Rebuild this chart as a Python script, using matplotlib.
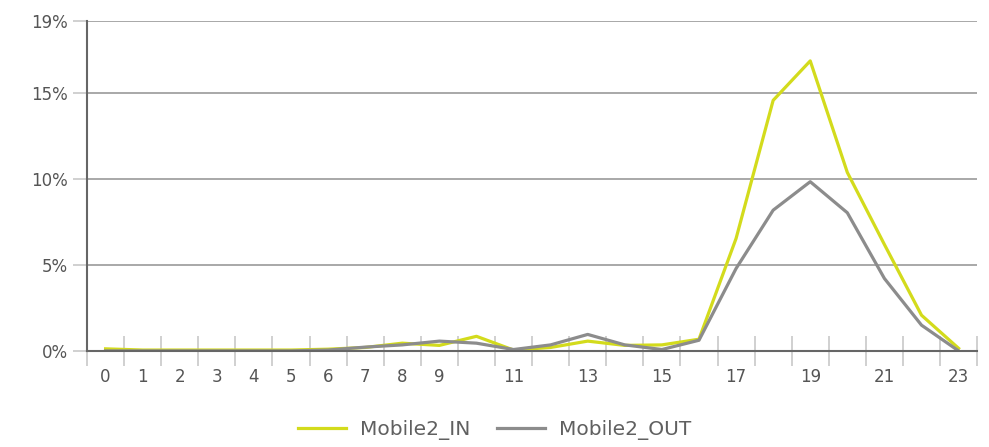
import matplotlib.pyplot as plt

# hourly share of traffic (%)
hours = list(range(24))
mobile2_in = [0.12, 0.05, 0.05, 0.05, 0.05, 0.05, 0.1, 0.2, 0.45, 0.32, 0.85, 0.05,
              0.2, 0.57, 0.32, 0.35, 0.68, 6.55, 14.6, 16.9, 10.4, 6.2, 2.08, 0.15]
mobile2_out = [0.0, 0.0, 0.0, 0.0, 0.0, 0.0, 0.05, 0.22, 0.35, 0.57, 0.45, 0.08,
               0.35, 0.96, 0.35, 0.08, 0.62, 4.8, 8.2, 9.86, 8.05, 4.22, 1.5, 0.0]
x_labels = ["0", "1", "2", "3", "4", "5", "6", "7", "8", "9", "", "11",
            "", "13", "", "15", "", "17", "", "19", "", "21", "", "23"]
y_ticks = [0, 5, 10, 15, 19.25]
y_labels = ["0%", "5%", "10%", "15%", "19%"]

text_col = "#555555"
plt.rc('font', family='DejaVu Sans', size=12)

fig = plt.figure(figsize=(9.89, 4.47), dpi=100)
ax = fig.add_axes([0.088, 0.215, 0.9, 0.739])

ax.plot(hours, mobile2_in, color="#d3db1c", lw=2.3, label="Mobile2_IN")
ax.plot(hours, mobile2_out, color="#8c8c8c", lw=2.3, label="Mobile2_OUT")

ax.set_xlim(-0.5, 23.5)
ax.set_ylim(0, 19.25)

ax.set_yticks(y_ticks)
ax.set_yticklabels(y_labels, color=text_col)
ax.yaxis.grid(True, color="#999999", lw=1.2)
ax.set_axisbelow(True)
ax.tick_params(axis='y', length=10, color="#c8c8c8", width=1.2, pad=4)

# tick marks on category boundaries, labels on the category centres
ax.set_xticks([h - 0.5 for h in hours] + [23.5])
ax.set_xticklabels([])
ax.set_xticks(hours, minor=True)
ax.set_xticklabels(x_labels, minor=True, color=text_col)
ax.tick_params(axis='x', which='major', direction='inout', length=22, color="#c8c8c8", width=1.2)
ax.tick_params(axis='x', which='minor', length=0, pad=12)

for s in ['top', 'right']:
    ax.spines[s].set_visible(False)
for s in ['left', 'bottom']:
    ax.spines[s].set_color("#666666")
    ax.spines[s].set_linewidth(1.5)

leg = fig.legend(loc='lower center', bbox_to_anchor=(0.5, -0.025), ncol=2, frameon=False,
                 handlelength=2.4, handletextpad=0.7, columnspacing=1.3, fontsize=14.5)
for t in leg.get_texts():
    t.set_color("#606060")

plt.savefig("out.png", dpi=100)
